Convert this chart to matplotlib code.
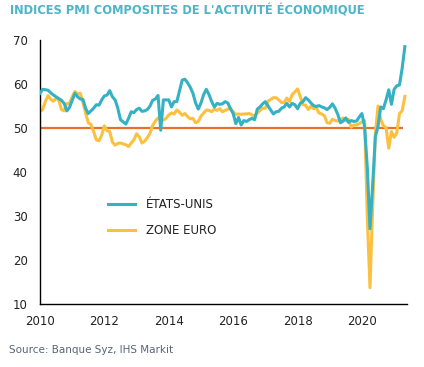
import numpy as np
import pandas as pd
import matplotlib
matplotlib.use("Agg")
import matplotlib.pyplot as plt
from matplotlib.lines import Line2D

# PMI composite, monthly, Jan 2010 -> May 2021
us_pmi = [
    57.8, 58.7, 58.6, 58.5, 57.9, 57.4, 57.0, 56.6, 56.2, 55.5, 53.8, 54.6,  # 2010
    56.2, 57.8, 57.0, 56.5, 56.4, 54.4, 53.2, 53.8, 54.4, 55.2, 55.1, 56.3,  # 2011
    57.2, 57.4, 58.4, 57.0, 56.3, 54.4, 51.8, 51.3, 50.8, 52.1, 53.6, 53.4,  # 2012
    54.1, 54.4, 53.7, 53.8, 54.1, 54.9, 56.2, 56.5, 57.3, 49.4, 56.3, 56.3,  # 2013
    56.3, 54.7, 55.9, 55.9, 58.3, 60.8, 61.0, 60.2, 59.2, 57.8, 55.6, 54.2,  # 2014
    55.6, 57.5, 58.7, 57.5, 55.9, 54.7, 55.5, 55.3, 55.4, 55.9, 55.6, 54.3,  # 2015
    53.2, 50.9, 52.3, 50.6, 51.6, 51.4, 51.8, 52.1, 51.8, 54.2, 54.7, 55.4,  # 2016
    55.9, 54.9, 54.0, 53.1, 53.6, 53.7, 54.4, 54.7, 55.5, 54.7, 55.5, 55.2,  # 2017
    54.3, 55.5, 55.9, 56.8, 56.3, 55.6, 55.0, 54.8, 55.0, 54.7, 54.5, 54.1,  # 2018
    54.6, 55.4, 54.4, 53.0, 51.1, 51.5, 52.2, 51.2, 51.6, 51.4, 51.5, 52.4,  # 2019
    53.2, 50.2, 40.9, 27.0, 37.0, 47.9, 50.3, 54.7, 54.3, 56.3, 58.6, 55.3,  # 2020
    58.7, 59.5, 59.7, 63.5, 68.4,                                            # 2021
]
ez_pmi = [
    53.7, 54.1, 55.9, 57.3, 56.4, 56.0, 56.7, 56.2, 54.1, 53.8, 55.5, 55.5,  # 2010
    57.0, 58.2, 57.6, 57.8, 55.8, 53.3, 51.1, 50.7, 49.1, 47.2, 47.0, 48.3,  # 2011
    50.4, 49.3, 49.1, 46.7, 46.0, 46.4, 46.5, 46.3, 46.1, 45.7, 46.5, 47.2,  # 2012
    48.6, 47.9, 46.5, 46.9, 47.7, 48.7, 50.5, 51.5, 52.2, 51.9, 51.7, 52.1,  # 2013
    52.9, 53.3, 53.1, 54.0, 53.5, 52.8, 53.2, 52.5, 52.0, 52.1, 51.1, 51.4,  # 2014
    52.6, 53.3, 54.0, 53.9, 53.6, 54.2, 53.9, 54.3, 53.6, 53.9, 54.2, 54.3,  # 2015
    53.6, 53.0, 53.1, 53.0, 53.1, 53.1, 53.2, 52.9, 52.6, 53.3, 53.9, 54.4,  # 2016
    54.4, 56.0, 56.4, 56.8, 56.8, 56.3, 55.7, 55.7, 56.7, 55.9, 57.5, 58.1,  # 2017
    58.8, 57.1, 55.2, 55.1, 54.1, 54.9, 54.3, 54.5, 53.3, 53.1, 52.7, 51.1,  # 2018
    51.0, 51.9, 51.6, 51.5, 51.8, 52.2, 51.5, 51.9, 50.1, 50.6, 50.6, 50.9,  # 2019
    51.3, 51.6, 29.7, 13.6, 31.9, 48.5, 54.9, 51.9, 50.4, 50.0, 45.3, 49.1,  # 2020
    47.8, 48.8, 53.2, 53.8, 57.1,                                            # 2021
]
dates = pd.date_range("2010-01-01", periods=len(us_pmi), freq="MS")
t = dates.year + (dates.month - 1) / 12.0

year_ticks = [2010, 2012, 2014, 2016, 2018, 2020]
y_ticks = [10, 20, 30, 40, 50, 60, 70]
threshold = 50

teal = "#35B1C4"
yellow = "#FBC13E"
orange = "#E8702A"

fig = plt.figure(figsize=(4.24, 3.67), dpi=100)
ax = fig.add_axes([40 / 424, 0.173, 367 / 424, 0.719])

ax.hlines(threshold, 2010, 2021.27, color=orange, lw=1.6, zorder=1)
ax.plot(t, ez_pmi, color=yellow, lw=2.2, zorder=2)
ax.plot(t, us_pmi, color=teal, lw=2.2, zorder=3)

ax.set_xlim(2010, 2021.4)
ax.set_ylim(10, 70)
ax.set_xticks(year_ticks)
ax.set_yticks(y_ticks)
ax.tick_params(length=0, labelsize=8.5, colors="#222222")
ax.tick_params(axis="y", pad=9)
ax.tick_params(axis="x", pad=8)
for s in ["top", "right"]:
    ax.spines[s].set_visible(False)
for s in ["left", "bottom"]:
    ax.spines[s].set_linewidth(1.0)

handles = [Line2D([], [], color=teal, lw=2.2), Line2D([], [], color=yellow, lw=2.2)]
ax.legend(handles, ["ÉTATS-UNIS", "ZONE EURO"], loc="upper left",
          bbox_to_anchor=(0.185, 0.40), frameon=False, fontsize=8.5,
          handlelength=2.3, handletextpad=0.9, labelspacing=1.1,
          borderpad=0, borderaxespad=0, labelcolor="#222222")

fig.text(10 / 424, 1 - 11 / 367, "INDICES PMI COMPOSITES DE L'ACTIVITÉ ÉCONOMIQUE",
         color="#4DB5C6", fontsize=8.3, fontweight="bold", va="center", ha="left")
fig.text(9 / 424, 1 - 350 / 367, "Source: Banque Syz, IHS Markit",
         color="#5A6478", fontsize=7.5, va="center", ha="left")

fig.savefig("out.png", dpi=100)
